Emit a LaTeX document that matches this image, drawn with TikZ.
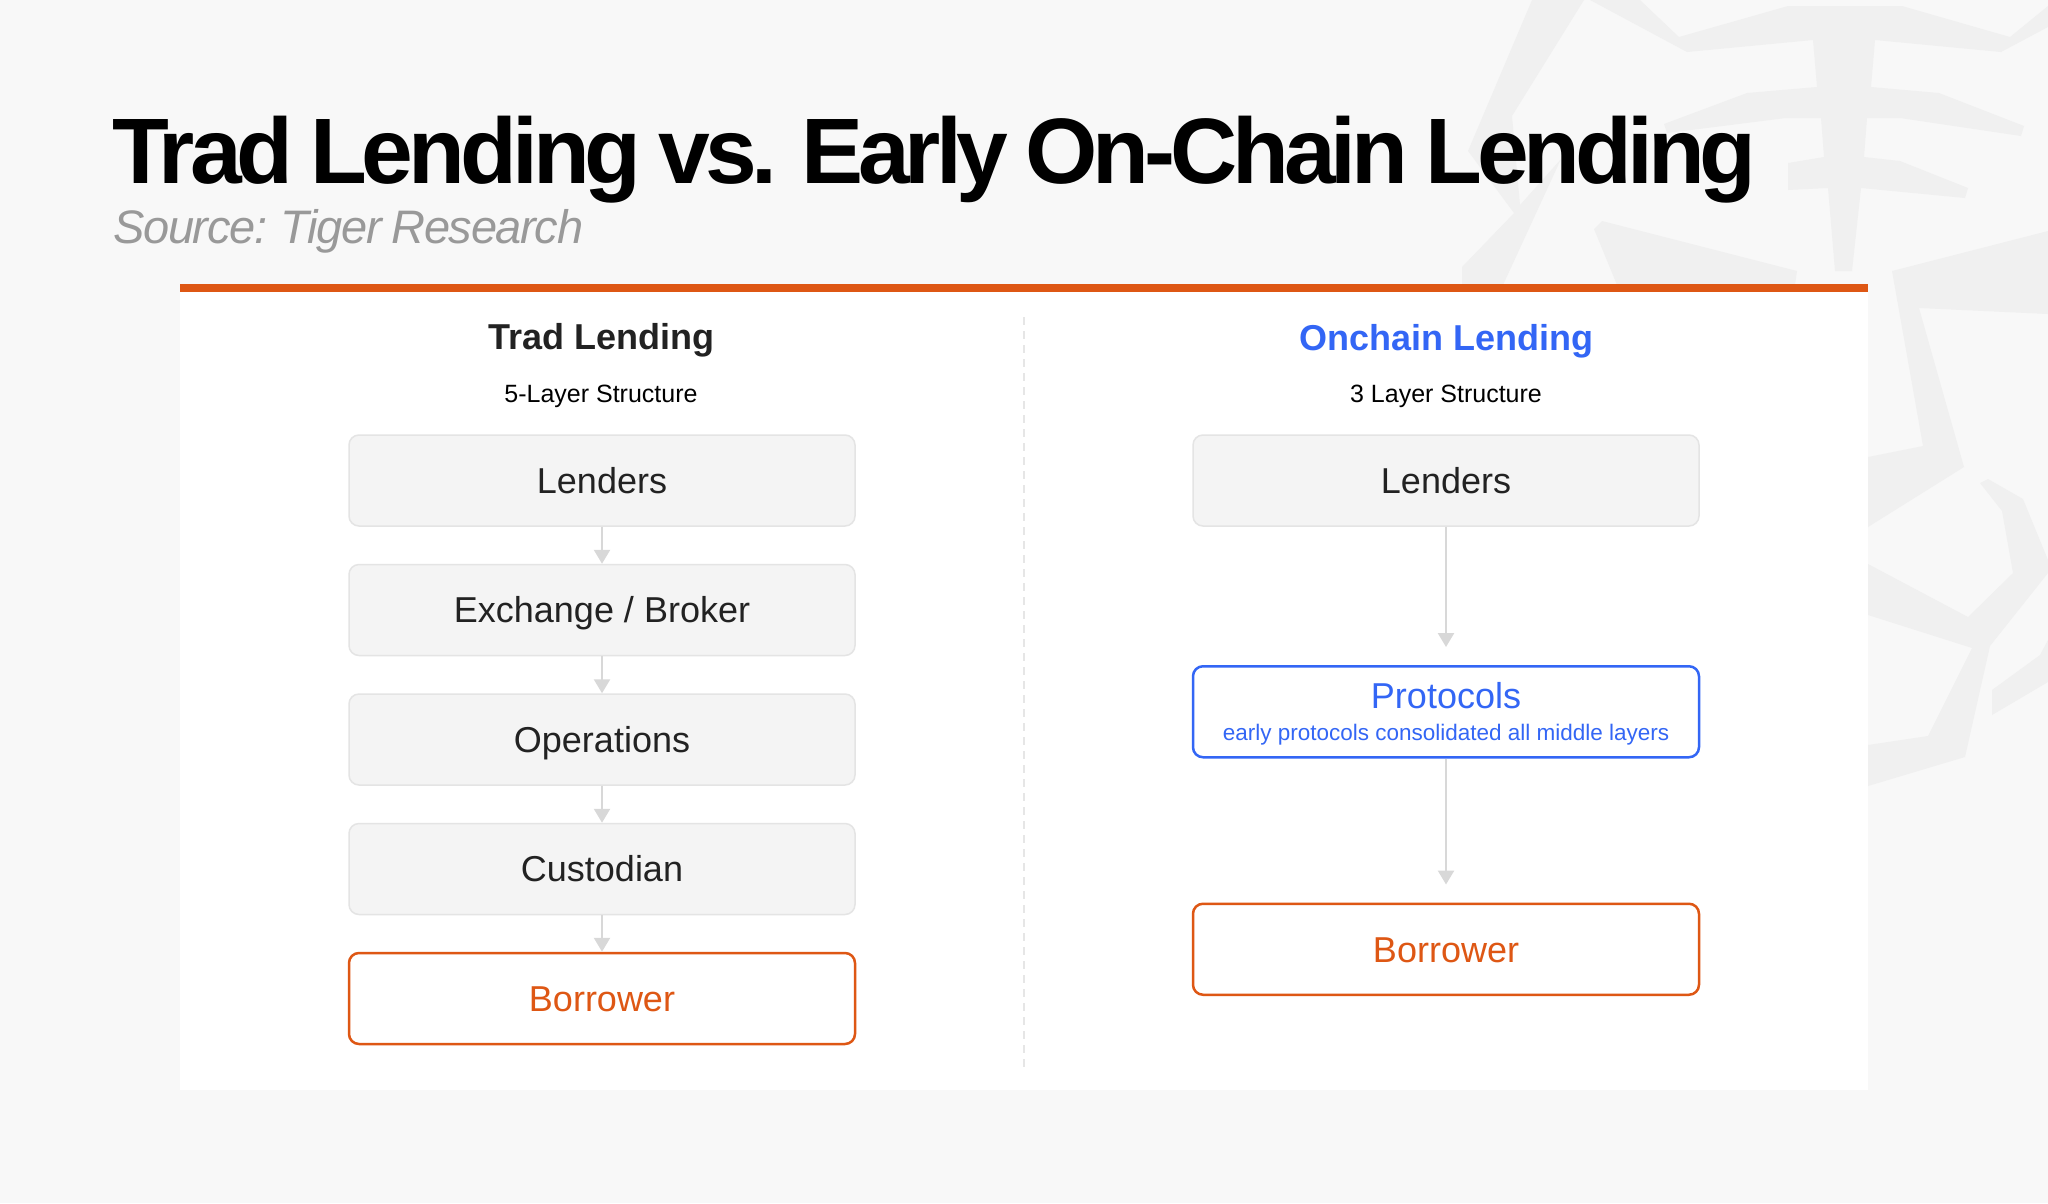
\documentclass[tikz,border=0pt]{standalone}
\usepackage{fontspec}
\setmainfont{Liberation Sans}
\newfontfamily\titlefont{Liberation Sans}[LetterSpace=-5.4,WordSpace=0.8]
\newfontfamily\subtfont{Liberation Sans}[LetterSpace=-2.8,WordSpace=0.8]
\usetikzlibrary{arrows.meta}
\definecolor{bgc}{HTML}{F8F8F8}
\definecolor{wmc}{HTML}{F0F0F0}
\definecolor{tgorange}{HTML}{DE5714}
\definecolor{tgblue}{HTML}{3366F5}
\definecolor{boxfill}{HTML}{F4F4F4}
\definecolor{boxline}{HTML}{E4E4E4}
\definecolor{arrowc}{HTML}{D8D8D8}
\definecolor{txt}{HTML}{222222}
\definecolor{subgray}{HTML}{999999}
\definecolor{divc}{HTML}{E6E6E6}
\tikzset{
  graybox/.style={draw=boxline, fill=boxfill, line width=1.5pt, rounded corners=10pt,
    minimum width=506pt, minimum height=91pt, inner sep=0pt, text=txt,
    font=\fontsize{36}{40}\selectfont, text height=25.8pt, text depth=0pt},
  orangebox/.style={graybox, draw=tgorange, fill=white, line width=2.5pt, text=tgorange},
  bluebox/.style={graybox, draw=tgblue, fill=white, line width=2.5pt, text=tgblue},
  flow/.style={draw=arrowc, line width=2.5pt, -{Triangle[width=16pt,length=14pt]}},
  colhead/.style={anchor=base, inner sep=0pt, font=\fontsize{36}{40}\selectfont\bfseries},
  layers/.style={anchor=base, inner sep=0pt, text=black, font=\fontsize{25}{30}\selectfont},
}
\begin{document}
\begin{tikzpicture}[x=1pt,y=-1pt]
\useasboundingbox (0,0) rectangle (2048,1203);
\fill[bgc] (0,0) rectangle (2048,1203);
% watermark
\fill[wmc] (1532,0) -- (1584,0) -- (1512,116) -- (1520,205) -- (1561,159) -- (1503,285) -- (1462,285) -- (1462,267) -- (1514,213) -- (1468,151) -- cycle;
\fill[wmc] (1590,0) -- (1640,0) -- (1679,37) -- (1788,6) -- (1902,6) -- (2010,37) -- (2048,6) -- (2048,27) -- (2001,52) -- (1875,40) -- (1871,87) -- (1939,93) -- (2024,126) -- (2021,136) -- (1900,118) -- (1867,118) -- (1864,157) -- (1900,161) -- (1968,188) -- (1965,198) -- (1861,188) -- (1852,271) -- (1835,271) -- (1828,188) -- (1788,190) -- (1788,163) -- (1824,157) -- (1821,118) -- (1786,118) -- (1667,133) -- (1664,124) -- (1747,93) -- (1817,87) -- (1813,40) -- (1687,52) -- cycle;
\fill[wmc] (1594,229) -- (1602,221) -- (1797,271) -- (1795,285) -- (1617,285) -- cycle;
\fill[wmc] (1892,271) -- (2048,231) -- (2048,314) -- (1919,308) -- (1964,467) -- (1868,527) -- (1868,457) -- (1923,446) -- cycle;
\fill[wmc] (1980,483) -- (1988,479) -- (2023,499) -- (2048,560) -- (2048,573) -- (1990,646) -- (1965,757) -- (1868,786) -- (1868,745) -- (1928,736) -- (1972,648) -- (1868,615) -- (1868,564) -- (1968,617) -- (2013,573) -- (2002,511) -- cycle;
\fill[wmc] (1992,690) -- (2040,655) -- (2048,640) -- (2048,682) -- (1992,715) -- cycle;
% title
\node[anchor=base west, inner sep=0pt, text=black, font=\titlefont\fontsize{93}{100}\selectfont\bfseries] (title) at (112,183) {Trad Lending vs. Early On-Chain Lending};
\node[anchor=base west, inner sep=0pt, text=subgray, font=\subtfont\fontsize{47}{52}\selectfont\itshape] (source) at (113,243) {Source: Tiger Research};
% panel
\fill[white] (180,284) rectangle (1868,1090);
\fill[tgorange] (180,284) rectangle (1868,292);
\coordinate (divtop) at (1024,317);
\coordinate (divbot) at (1024,1071);
\draw[divc, line width=1.5pt, dash pattern=on 8pt off 6pt] (divtop) -- (divbot);
% headings
\node[colhead, text=txt] (hleft) at (601,349) {Trad Lending};
\node[layers] (sleft) at (601,402) {5-Layer Structure};
\node[colhead, text=tgblue] (hright) at (1446,350) {Onchain Lending};
\node[layers] (sright) at (1446,402) {3 Layer Structure};
% left column
\node[graybox] (l1) at (602,480.5) {Lenders};
\node[graybox] (l2) at (602,610) {Exchange / Broker};
\node[graybox] (l3) at (602,739.5) {Operations};
\node[graybox] (l4) at (602,869) {Custodian};
\node[orangebox] (l5) at (602,998.5) {Borrower};
\draw[flow] (l1.south) -- (l2.north);
\draw[flow] (l2.south) -- (l3.north);
\draw[flow] (l3.south) -- (l4.north);
\draw[flow] (l4.south) -- (l5.north);
% right column
\node[graybox] (r1) at (1446,480.5) {Lenders};
\node[bluebox, text height=0pt] (r2) at (1446,711.75) {};
\node[anchor=base, inner sep=0pt, text=tgblue, font=\fontsize{36}{40}\selectfont] (r2a) at (1446,708) {Protocols};
\node[anchor=base, inner sep=0pt, text=tgblue, font=\fontsize{22.5}{26}\selectfont] (r2b) at (1446,740) {early protocols consolidated all middle layers};
\node[orangebox] (r3) at (1446,949.25) {Borrower};
\draw[flow, shorten >=18pt] (r1.south) -- (r2.north);
\draw[flow, shorten >=18pt] (r2.south) -- (r3.north);
\end{tikzpicture}
\end{document}
